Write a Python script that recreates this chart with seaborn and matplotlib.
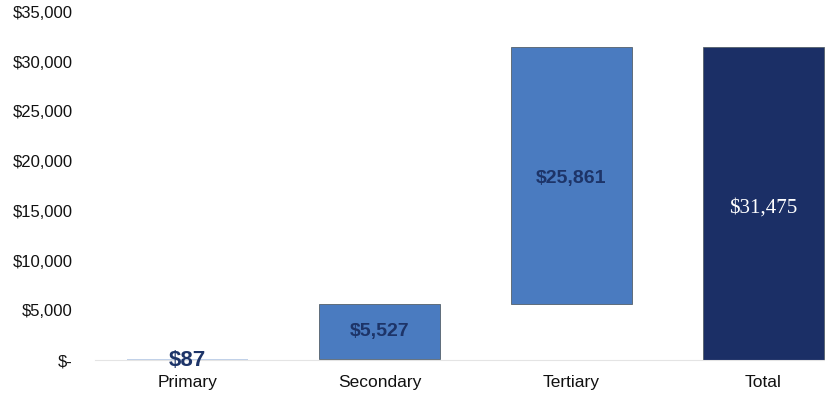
import matplotlib
matplotlib.use("Agg")
import matplotlib.pyplot as plt
import seaborn as sns
import numpy as np
import pandas as pd

categories = ["Primary", "Secondary", "Tertiary", "Total"]
values = [87, 5527, 25861, 31475]
bottoms = [0, 87, 5614, 0]
labels = ["$87", "$5,527", "$25,861", "$31,475"]
ytick_vals = [0, 5000, 10000, 15000, 20000, 25000, 30000, 35000]
ytick_labels = ["$-", "$5,000", "$10,000", "$15,000", "$20,000", "$25,000", "$30,000", "$35,000"]

bar_colors = ["#4a7bc0", "#4a7bc0", "#4a7bc0", "#1b2f66"]
label_colors = ["#1d3468", "#1d3468", "#1d3468", "white"]

sns.set_style("white")
plt.rcParams['font.family'] = ['Liberation Sans', 'DejaVu Sans']

fig = plt.figure(figsize=(8.25, 3.96), dpi=100)
ax = fig.add_axes([95/825, 36/396, (825-95)/825, (360-12)/396])

df = pd.DataFrame({"cat": categories, "val": values})
sns.barplot(data=df, x="cat", y="val", bottom=bottoms, width=0.63,
            color=bar_colors[0], errorbar=None, ax=ax, saturation=1,
            edgecolor="#55606a", linewidth=0.6)
for i, (p, c) in enumerate(zip(ax.patches, bar_colors)):
    p.set_facecolor(c)
    if i == 0:
        p.set_edgecolor("none")
        p.set_alpha(0.35)

ax.set_xlim(-(188-95)/193, 3 + (825-763)/193)
ax.set_ylim(0, 35000)
ax.set_yticks(ytick_vals)
ax.set_yticklabels(ytick_labels, fontsize=12, color="#111111")
ax.tick_params(axis="y", length=0, pad=16)
ax.tick_params(axis="x", length=0, pad=11, labelsize=12.5, labelcolor="#111111")
ax.set_xlabel("")
ax.set_ylabel("")
for s in ["top", "right", "left"]:
    ax.spines[s].set_visible(False)
ax.spines["bottom"].set_color("#e4e4e4")
ax.spines["bottom"].set_linewidth(0.8)

# value labels
for i, (v, b, lab, lc) in enumerate(zip(values, bottoms, labels, label_colors)):
    if i == 0:
        ax.text(i, 0, lab, ha="center", va="center", fontsize=16, fontweight="bold", color=lc)
    elif i == 3:
        ax.text(i, 15300, lab, ha="center", va="center", fontsize=15,
                color=lc, family=["Liberation Serif", "DejaVu Serif"])
    elif i == 2:
        ax.text(i, 18300, lab, ha="center", va="center", fontsize=14, fontweight="bold", color=lc)
    else:
        ax.text(i, b + v / 2, lab, ha="center", va="center", fontsize=14, fontweight="bold", color=lc)

fig.savefig("out.png", dpi=100)
